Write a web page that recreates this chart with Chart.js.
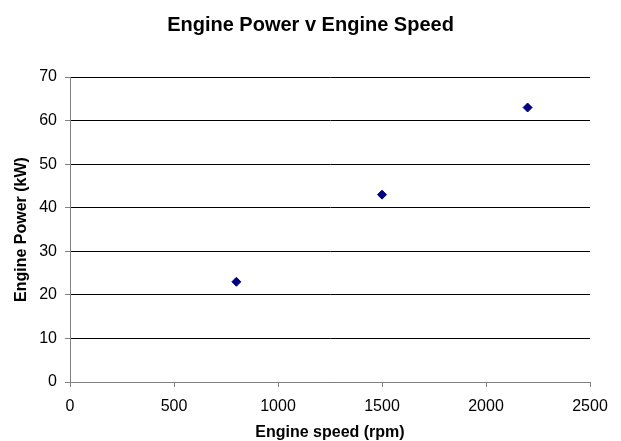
<!DOCTYPE html>
<html>
<head>
<meta charset="utf-8">
<script src="https://cdn.jsdelivr.net/npm/chart.js@4/dist/chart.umd.min.js"></script>
<style>
  html,body{margin:0;padding:0;background:#fff;}
  #wrap{width:621px;height:441px;}
</style>
</head>
<body>
<div id="wrap"><canvas id="c" width="621" height="441"></canvas></div>
<script>
// data
const speedRpm = [800, 1500, 2200];
const powerKw  = [23, 43, 63];
const xTicks = [0, 500, 1000, 1500, 2000, 2500];
const yTicks = [0, 10, 20, 30, 40, 50, 60, 70];

const FONT = "'Liberation Sans', Arial, sans-serif";

// title is centred on the whole canvas, ignoring the right padding
const fullWidthTitle = {
  id: "fullWidthTitle",
  afterLayout(chart){
    const t = chart.titleBlock;
    if (!t) return;
    t.left = 0; t.right = chart.width; t.width = chart.width;
  }
};

new Chart(document.getElementById("c"), {
  type: "scatter",
  data: {
    datasets: [{
      label: "Power",
      data: speedRpm.map((x,i)=>({x, y: powerKw[i]})),
      pointStyle: "rectRot",
      pointRadius: 4.5,
      pointHoverRadius: 4.5,
      backgroundColor: "#000080",
      borderColor: "#000080",
      borderWidth: 1
    }]
  },
  plugins: [fullWidthTitle],
  options: {
    responsive: false,
    animation: false,
    layout: { padding: { left: 0, right: 31, top: 0, bottom: 0 } },
    plugins: {
      legend: { display: false },
      tooltip: { enabled: false },
      title: {
        display: true,
        text: "Engine Power v Engine Speed",
        color: "#000",
        font: { family: FONT, size: 20, weight: "bold", lineHeight: 1.2 },
        padding: { top: 13, bottom: 40 }
      }
    },
    scales: {
      x: {
        type: "linear",
        min: 0, max: 2500,
        afterBuildTicks: (s)=>{ s.ticks = xTicks.map(v=>({value:v})); },
        afterFit: (s)=>{ s.height = 59; },
        ticks: { color: "#000", font: { family: FONT, size: 16, lineHeight: 1 }, padding: 12, callback: (v)=>String(v) },
        grid: { drawOnChartArea: false, drawTicks: true, tickLength: 5, color: "#808080" },
        border: { color: "#808080", width: 1 },
        title: {
          display: true, text: "Engine speed (rpm)", color: "#000",
          font: { family: FONT, size: 16, weight: "bold", lineHeight: 1 },
          padding: { top: 10, bottom: 0 }
        }
      },
      y: {
        type: "linear",
        min: 0, max: 70,
        afterBuildTicks: (s)=>{ s.ticks = yTicks.map(v=>({value:v})); },
        afterFit: (s)=>{ s.width = 70; },
        ticks: { color: "#000", font: { family: FONT, size: 16, lineHeight: 1 }, padding: 8, callback: (v)=>String(v) },
        grid: { color: "#000", lineWidth: 1, tickLength: 5, tickColor: "#808080" },
        border: { color: "#808080", width: 1 },
        title: {
          display: true, text: "Engine Power (kW)", color: "#000",
          font: { family: FONT, size: 16, weight: "bold", lineHeight: 1 },
          padding: { top: 14, bottom: 4 }
        }
      }
    }
  }
});
</script>
</body>
</html>
